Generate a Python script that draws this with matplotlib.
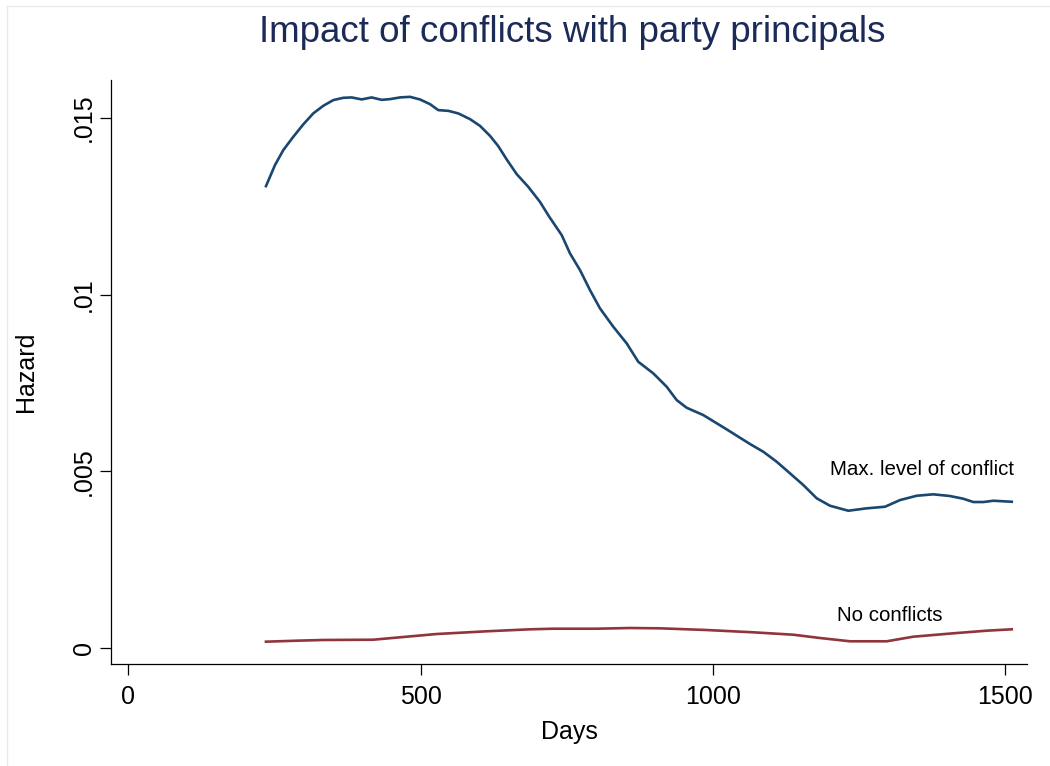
import numpy as np
import matplotlib
matplotlib.use("Agg")
from matplotlib import pyplot as plt
from matplotlib.lines import Line2D

plt.rcParams['font.family'] = ['Liberation Sans', 'DejaVu Sans']

# data
days_max = [235.6, 251.0, 265.2, 282.3, 299.4, 316.5, 333.6, 350.7, 367.8, 382.2,
            399.3, 416.4, 433.5, 447.7, 464.8, 481.9, 499.1, 516.2, 530.4, 547.5,
            564.6, 584.6, 601.7, 618.8, 633.0, 647.4, 664.5, 684.3, 704.3, 720.3,
            741.5, 755.7, 772.8, 789.9, 807.0, 829.8, 852.7, 872.5, 898.2, 921.1,
            938.2, 955.3, 983.7, 1020.9, 1063.7, 1086.4, 1109.3, 1132.1, 1154.8, 1177.8,
            1200.5, 1231.8, 1263.3, 1294.6, 1320.3, 1348.9, 1377.2, 1405.8, 1428.6, 1445.7,
            1462.8, 1479.9, 1511.4]
hazard_max = [0.013069, 0.013663, 0.014087, 0.014463, 0.014814, 0.015125, 0.015340, 0.015501,
              0.015566, 0.015577, 0.015521, 0.015577, 0.015509, 0.015529, 0.015577, 0.015594,
              0.015520, 0.015387, 0.015218, 0.015198, 0.015125, 0.014964, 0.014774, 0.014492,
              0.014200, 0.013824, 0.013409, 0.013049, 0.012625, 0.012201, 0.011684, 0.011167,
              0.010695, 0.010129, 0.009612, 0.009092, 0.008622, 0.008102, 0.007774, 0.007396,
              0.007019, 0.006802, 0.006595, 0.006220, 0.005776, 0.005558, 0.005275, 0.004947,
              0.004617, 0.004241, 0.004031, 0.003890, 0.003958, 0.004003, 0.004192, 0.004314,
              0.004354, 0.004306, 0.004229, 0.004136, 0.004136, 0.004173, 0.004144]

days_none = [235.6, 288.1, 333.6, 419.2, 476.3, 527.6, 613.2, 687.3, 727.1, 801.4, 858.4,
             909.7, 989.6, 1069.3, 1137.7, 1183.4, 1234.7, 1297.5, 1343.0, 1411.5, 1468.6, 1511.4]
hazard_none = [0.000187, 0.000215, 0.000235, 0.000243, 0.000328, 0.000404, 0.000481, 0.000537,
               0.000554, 0.000554, 0.000574, 0.000565, 0.000517, 0.000452, 0.000384, 0.000291,
               0.000198, 0.000198, 0.000328, 0.000424, 0.000498, 0.000537]

xticks = [0, 500, 1000, 1500]
yticks = [0, 0.005, 0.01, 0.015]
ytick_labels = ['0', '.005', '.01', '.015']

fig = plt.figure(figsize=(10.5, 7.66), dpi=100)
ax = fig.add_axes([111/1050, 1-664/766, (1027-111)/1050, (664-80)/766])

ax.plot(days_max, hazard_max, color='#1a476f', lw=1.9)
ax.plot(days_none, hazard_none, color='#90353b', lw=1.9)

ax.text(1200, 0.0049, 'Max. level of conflict', fontsize=14.8, color='black')
ax.text(1213, 0.00077, 'No conflicts', fontsize=14.8, color='black')

ax.set_xlim(-29.5, 1537.5)
ax.set_ylim(-0.000444, 0.01607)
ax.set_xticks(xticks)
ax.set_xticklabels([str(t) for t in xticks])
ax.set_yticks(yticks)
ax.set_yticklabels(ytick_labels, rotation=90, va='center')

for s in ['top', 'right']:
    ax.spines[s].set_visible(False)
for s in ['left', 'bottom']:
    ax.spines[s].set_linewidth(0.9)

ax.tick_params(axis='both', direction='out', length=8, width=0.9, labelsize=18)
ax.tick_params(axis='x', pad=7)
ax.tick_params(axis='y', pad=3)

ax.set_xlabel('Days', fontsize=18, labelpad=8)
ax.set_ylabel('Hazard', fontsize=18, labelpad=24)

fig.text(572/1050, 1-42/766, 'Impact of conflicts with party principals',
         ha='center', va='baseline', fontsize=26.5, color='#1c2a58')

# faint outer frame
fig.add_artist(Line2D([7/1050, 7/1050], [0, 1-6/766], transform=fig.transFigure,
                      color='#e6eced', lw=1))
fig.add_artist(Line2D([7/1050, 1], [1-6/766, 1-6/766], transform=fig.transFigure,
                      color='#e6eced', lw=1))

fig.savefig('out.png', dpi=100, facecolor='white')
